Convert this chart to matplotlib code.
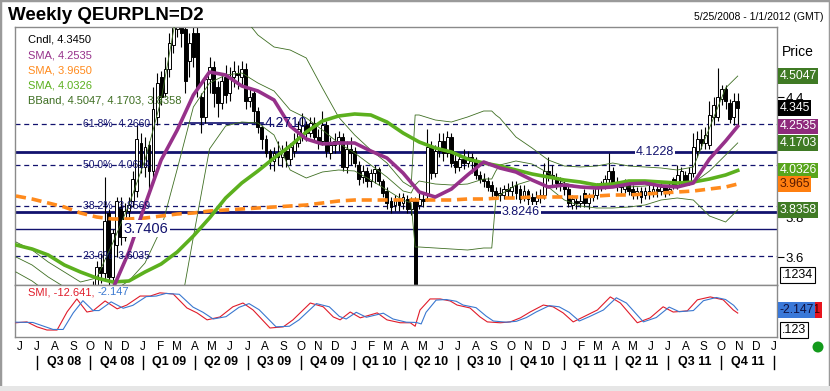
import numpy as np
import pandas as pd
import matplotlib
matplotlib.use('Agg')
import matplotlib.pyplot as plt
import matplotlib.dates as mdates
from matplotlib.patches import Rectangle, Ellipse
from matplotlib.lines import Line2D
from matplotlib.transforms import blended_transform_factory as blend

plt.rcParams['font.family'] = ['Liberation Sans', 'DejaVu Sans']

# ---------------- data ----------------
start_week = '2008-05-25'          # week 0
first_candle_week = 19

opens = [3.40,3.46,3.55,3.52,3.82,3.50,3.66,3.85,3.70,3.83,
         3.88,3.93,4.17,4.05,4.16,4.03,4.30,4.50,4.42,4.54,
         4.66,4.74,4.78,4.74,4.58,4.72,4.72,4.40,4.30,4.49,
         4.55,4.45,4.37,4.50,4.42,4.50,4.52,4.50,4.54,4.38,
         4.42,4.33,4.25,4.19,4.13,4.08,4.12,4.10,4.13,4.09,
         4.13,4.17,4.22,4.26,4.22,4.27,4.20,4.18,4.26,4.12,
         4.16,4.18,4.20,4.05,4.14,4.13,4.06,4.00,4.03,3.98,
         4.02,4.04,3.98,3.93,3.88,3.86,3.89,3.87,3.89,3.84,
         3.88,3.86,3.89,3.92,4.15,4.02,4.13,4.18,4.12,4.20,
         4.08,4.05,4.09,4.07,4.10,4.08,4.01,3.99,3.98,3.96,
         3.93,3.91,3.91,3.94,3.93,3.96,3.94,3.90,3.93,3.90,
         3.88,3.90,3.91,4.03,4.01,4.00,3.97,3.96,3.94,3.86,
         3.88,3.87,3.92,3.87,3.90,3.91,3.95,3.96,3.99,4.03,
         3.97,3.96,3.94,3.96,3.94,3.92,3.93,3.91,3.93,3.92,
         3.94,3.93,3.95,3.93,3.99,3.96,3.98,4.01,3.98,4.02,
         4.13,4.19,4.17,4.16,4.30,4.30,4.39,4.44,4.37,4.30,
         4.38]
highs = [3.48,3.58,3.62,4.00,3.84,3.74,3.90,3.90,3.87,3.90,
         4.03,4.26,4.22,4.20,4.18,4.45,4.52,4.53,4.60,4.72,
         4.90,4.92,4.90,4.85,4.72,4.80,4.75,4.42,4.51,4.60,
         4.58,4.48,4.52,4.56,4.55,4.58,4.56,4.58,4.57,4.45,
         4.44,4.35,4.26,4.21,4.14,4.15,4.18,4.16,4.18,4.17,
         4.22,4.28,4.32,4.28,4.30,4.30,4.24,4.33,4.28,4.20,
         4.22,4.23,4.22,4.18,4.20,4.15,4.08,4.06,4.05,4.04,
         4.06,4.05,3.99,3.95,3.90,3.91,3.92,3.92,3.91,3.90,
         3.90,3.92,3.92,4.24,4.18,4.16,4.22,4.22,4.23,4.22,
         4.12,4.11,4.14,4.13,4.12,4.10,4.03,4.02,4.00,3.98,
         3.95,3.95,3.96,3.97,3.98,3.98,3.96,3.96,3.94,3.92,
         3.93,3.94,4.07,4.10,4.06,4.02,4.00,3.98,3.96,3.91,
         3.90,3.91,3.94,3.92,3.94,3.97,3.98,4.01,4.12,4.05,
         4.00,3.98,3.99,3.98,3.96,3.95,3.95,3.95,3.96,3.96,
         3.96,3.97,3.96,3.97,4.00,4.06,4.05,4.03,4.05,4.22,
         4.23,4.24,4.25,4.38,4.40,4.545,4.46,4.46,4.39,4.42,
         4.42]
lows = [3.38,3.42,3.47,3.48,3.46,3.47,3.60,3.66,3.68,3.80,
        3.85,3.90,4.02,4.00,3.93,4.00,4.26,4.36,4.40,4.50,
        4.62,4.70,4.65,4.42,4.50,4.55,4.40,4.22,4.27,4.42,
        4.35,4.30,4.34,4.37,4.38,4.45,4.44,4.46,4.34,4.35,
        4.27,4.22,4.14,4.10,4.04,4.03,4.06,4.05,4.05,4.06,
        4.10,4.15,4.18,4.18,4.20,4.18,4.14,4.16,4.10,4.09,
        4.12,4.13,4.03,4.02,4.06,4.05,3.96,3.97,3.95,3.95,
        3.97,3.96,3.90,3.84,3.82,3.83,3.83,3.84,3.82,3.81,
        3.20,3.84,3.85,3.88,3.99,4.00,4.10,4.08,4.10,4.05,
        4.02,4.03,4.04,4.05,4.02,3.99,3.97,3.95,3.93,3.89,
        3.89,3.88,3.89,3.90,3.90,3.89,3.87,3.88,3.85,3.86,
        3.86,3.87,3.89,3.98,3.96,3.94,3.93,3.91,3.85,3.84,
        3.84,3.85,3.85,3.84,3.88,3.89,3.93,3.94,3.97,3.95,
        3.93,3.92,3.92,3.91,3.89,3.89,3.87,3.89,3.89,3.90,
        3.90,3.91,3.90,3.91,3.94,3.94,3.96,3.96,3.96,4.00,
        4.10,4.14,4.14,4.14,4.26,4.28,4.36,4.34,4.27,4.26,
        4.26]
closes = [3.45,3.55,3.52,3.78,3.50,3.72,3.88,3.70,3.83,3.86,
          3.99,4.19,4.05,4.15,4.03,4.34,4.47,4.40,4.54,4.67,
          4.78,4.80,4.72,4.48,4.67,4.60,4.45,4.30,4.49,4.55,
          4.42,4.37,4.48,4.41,4.50,4.53,4.51,4.54,4.38,4.40,
          4.33,4.25,4.19,4.12,4.08,4.12,4.10,4.13,4.09,4.15,
          4.18,4.24,4.26,4.22,4.27,4.20,4.18,4.26,4.13,4.16,
          4.18,4.20,4.05,4.14,4.12,4.07,3.99,4.03,3.98,4.02,
          4.04,3.98,3.92,3.87,3.85,3.89,3.86,3.90,3.84,3.88,
          3.20,3.89,3.88,4.15,4.02,4.13,4.18,4.12,4.20,4.07,
          4.05,4.09,4.07,4.10,4.08,4.01,3.99,3.98,3.95,3.93,
          3.91,3.92,3.94,3.93,3.95,3.92,3.89,3.93,3.89,3.88,
          3.90,3.91,4.03,4.01,4.00,3.97,3.96,3.94,3.87,3.89,
          3.87,3.88,3.87,3.90,3.91,3.95,3.96,3.99,4.03,3.97,
          3.96,3.95,3.96,3.93,3.91,3.93,3.90,3.93,3.92,3.94,
          3.93,3.95,3.92,3.94,3.96,4.01,4.03,3.98,4.02,4.15,
          4.19,4.17,4.21,4.31,4.36,4.40,4.44,4.38,4.29,4.38,
          4.345]

# moving averages read every 4 weeks (+ last week)
ind_weeks = list(range(0, 177, 4)) + [179]
sma_purple = [3.40,3.35,3.30,3.28,3.30,3.38,3.44,3.625,3.86,4.085,
              4.235,4.41,4.525,4.51,4.455,4.43,4.385,4.255,4.19,4.165,
              4.17,4.17,4.13,4.095,4.02,3.925,3.90,3.94,4.01,4.075,
              4.045,4.025,3.985,3.95,3.96,3.95,3.945,3.95,3.965,3.97,
              3.955,3.95,3.97,4.09,4.18,4.2535]
sma_orange = [3.905,3.89,3.87,3.85,3.82,3.80,3.79,3.79,3.795,3.805,
              3.815,3.82,3.83,3.835,3.84,3.845,3.85,3.855,3.86,3.87,
              3.88,3.885,3.885,3.885,3.885,3.885,3.885,3.885,3.89,3.89,
              3.895,3.895,3.90,3.90,3.90,3.90,3.905,3.91,3.91,3.915,
              3.92,3.925,3.93,3.94,3.95,3.965]
sma_green = [3.66,3.64,3.61,3.56,3.525,3.495,3.475,3.48,3.525,3.565,
             3.625,3.705,3.795,3.895,3.97,4.03,4.095,4.155,4.225,4.28,
             4.305,4.315,4.31,4.275,4.22,4.175,4.145,4.125,4.09,4.07,
             4.055,4.035,4.015,4.00,3.985,3.975,3.96,3.965,3.98,3.98,
             3.975,3.97,3.975,3.99,4.01,4.0326]

bb_weeks = [0,4,8,12,16,20,24,28,32,36,40,44,48,52,56,60,64,68,72,76,
            80,84,88,92,96,98,99,100,104,108,112,116,118,119,120,124,
            128,132,136,140,144,148,152,156,160,164,168,172,176,179]
bb_upper = [3.675,3.635,3.575,3.525,3.475,3.495,3.67,3.86,4.085,4.385,
            4.835,5.10,5.15,5.05,4.81,4.71,4.65,4.635,4.595,4.445,
            4.30,4.21,4.135,4.07,3.975,3.95,4.31,4.31,4.285,4.275,
            4.30,4.33,4.33,4.31,4.295,4.20,4.145,4.085,4.055,4.05,
            4.055,4.07,4.055,4.05,4.045,4.035,4.05,4.245,4.445,4.5047]
bb_mid = [3.60,3.56,3.50,3.45,3.41,3.40,3.43,3.48,3.57,3.74,
          4.04,4.35,4.47,4.51,4.52,4.47,4.43,4.335,4.295,4.235,
          4.17,4.12,4.06,4.00,3.93,3.92,3.96,3.98,3.965,3.96,
          3.965,3.99,3.99,4.03,4.06,4.08,4.065,4.02,3.97,3.95,
          3.95,3.955,3.95,3.955,3.965,3.965,3.97,4.03,4.11,4.1703]
bb_lower = [3.525,3.48,3.42,3.38,3.35,3.30,3.20,3.10,3.05,3.10,
            3.25,3.70,4.14,4.255,4.275,4.27,4.21,4.035,3.995,4.025,
            4.035,4.03,3.985,3.935,3.885,3.87,3.65,3.65,3.645,3.64,
            3.635,3.645,3.645,3.885,3.91,3.96,3.985,3.95,3.885,3.855,
            3.845,3.845,3.85,3.86,3.885,3.895,3.885,3.805,3.775,3.8358]

fib_pct = ['61.8%', '50.0%', '38.2%', '23.6%']
fib_levels = [4.2660, 4.0614, 3.8569, 3.6035]
thick_levels = [4.1228, 3.8246]
thin_level = 3.7406
seg_level = 4.2710

smi_red_weeks = [0,2.7,5.2,7.7,10.2,12.7,15.1,17.6,19.1,22.1,25.1,27.5,30.8,33.3,35.7,
                 39.0,42.4,44.9,47.4,50.6,53.8,56.3,58.8,63.0,66.3,68.7,73.0,76.2,78.7,80.4,
                 82.9,85.4,89.6,92.0,95.3,97.8,99.0,100.2,102.7,105.2,107.7,109.4,112.6,115.1,
                 116.9,120.1,122.6,125.1,127.5,130.8,133.2,135.7,138.2,140.7,144.2,147.4,149.9,
                 154.1,157.3,160.5,163.0,166.5,169.0,172.2,175.4,177.9,179]
smi_red = [-46,-43,-60,-71,-71,-8,36,-9,-5,29,2,15,46,46,57,
           53,5,-12,-36,-26,9,22,-2,-64,-60,-36,22,9,-26,-36,
           -9,-29,-12,-36,-46,-46,-58,-2,36,36,29,15,5,-26,
           -43,-46,-43,-29,-9,15,9,-12,-43,-26,-2,43,22,
           -46,-29,9,-9,-5,33,43,33,-2,-12.641]
smi_blue_weeks = [0,4.2,6.7,9.2,11.7,14.2,16.6,19.1,20.6,23.6,26.6,29.0,32.3,34.8,37.2,
                  40.5,43.9,46.4,48.9,52.1,55.3,57.8,60.3,64.5,67.8,70.2,74.5,77.7,80.2,81.9,
                  84.4,86.9,91.1,93.5,96.8,99.3,100.5,101.7,104.2,106.7,109.2,110.9,114.1,116.6,
                  118.4,121.6,124.1,126.6,129.0,132.3,134.7,137.2,139.7,142.2,145.7,148.9,151.4,
                  155.6,158.8,162.0,164.5,168.0,170.5,173.7,176.0,178.0,179]
smi_blue = [-44,-45,-57,-69,-69,-12,30,-4,-4,26,4,14,44,46,55,
            52,8,-10,-33,-25,7,20,-1,-60,-58,-36,20,9,-24,-33,
            -10,-27,-13,-33,-44,-45,-50,-10,32,34,28,15,6,-23,
            -40,-44,-41,-28,-9,13,9,-10,-40,-25,-2,40,22,
            -43,-28,8,-8,-4,30,41,34,14,-2.147]

month_letters = list('JJASONDJFMAMJJASONDJFMAMJJASONDJFMAMJJASONDJ')
quarter_labels = ['Q3 08','Q4 08','Q1 09','Q2 09','Q3 09','Q4 09','Q1 10','Q2 10',
                  'Q3 10','Q4 10','Q1 11','Q2 11','Q3 11','Q4 11']
price_ticks = [3.6, 3.8, 4.0, 4.2, 4.4]
price_tick_labels = ['3.6', '3.8', '', '', '4.4']   # 4.0 / 4.2 sit behind the value tags

# ---------------- helpers ----------------
W, H = 830, 391
fig = plt.figure(figsize=(W / 100, H / 100), dpi=100)
fig.patch.set_facecolor('white')

def fx(px):
    return px / W

def fy(py):
    return 1 - py / H

t0 = mdates.date2num(pd.Timestamp(start_week))

def wk(w):
    return t0 + 7 * np.asarray(w, dtype=float)

NAVY = '#12126e'
PURPLE = '#96318a'
ORANGE = '#ff8a1c'
GREEN = '#5cb01e'
BBC = '#3e6e22'

L, R, TOP, MID, BOT = 14.5, 777, 27, 285, 337
ax = fig.add_axes([fx(L), fy(MID), fx(R - L), (MID - TOP) / H])
ax2 = fig.add_axes([fx(L), fy(BOT), fx(R - L), (BOT - MID) / H])

d_jun = mdates.date2num(pd.Timestamp('2008-06-01'))
d_jan = mdates.date2num(pd.Timestamp('2012-01-01'))
ppd = (774 - 20) / (d_jan - d_jun)
xlim = (d_jun - (20 - L) / ppd, d_jan + (R - 774) / ppd)

for a in (ax, ax2):
    a.set_xlim(*xlim)
    a.set_facecolor('white')
    for s in a.spines.values():
        s.set_color('#8a8a8a')
        s.set_linewidth(1)
    a.set_xticks([])

ax.set_ylim(3.46, 4.75)

# ---------------- horizontal studies ----------------
for lvl in fib_levels:
    ax.axhline(lvl, color=NAVY, lw=0.9, ls=(0, (4, 3)), zorder=1)
for pct, lvl in zip(fib_pct, fib_levels):
    ax.text((83 - L) / (R - L), lvl, f'{pct}  {lvl:.4f}', transform=blend(ax.transAxes, ax.transData),
            fontsize=7.5, color=NAVY, va='center', ha='left', zorder=5)
for lvl in thick_levels:
    ax.axhline(lvl, color=NAVY, lw=2.0, zorder=1)
ax.axhline(thin_level, color=NAVY, lw=1.0, zorder=1)
seg_x = xlim[0] + (np.array([185, 263]) - L) / ppd
ax.plot(seg_x, [seg_level, seg_level], color=NAVY, lw=1.2, zorder=1)

def hlabel(xpx, lvl, txt, fs):
    ax.text((xpx - L) / (R - L), lvl, txt, transform=blend(ax.transAxes, ax.transData),
            fontsize=fs, color=NAVY, va='center', ha='center', zorder=6,
            bbox=dict(boxstyle='square,pad=0.1', fc='white', ec='none'))

hlabel(655, thick_levels[0], f'{thick_levels[0]:.4f}', 9)
hlabel(521, thick_levels[1], f'{thick_levels[1]:.4f}', 9)
hlabel(146, thin_level, f'{thin_level:.4f}', 10.5)
ax.text((265 - L) / (R - L), seg_level, f'{seg_level:.4f}', transform=blend(ax.transAxes, ax.transData),
        fontsize=10, color=NAVY, va='center', ha='left', zorder=6)

# ---------------- candles ----------------
o = np.array(opens); h = np.array(highs); lo = np.array(lows); c = np.array(closes)
cw = np.arange(first_candle_week, first_candle_week + len(c))
xd = wk(cw)
ax.vlines(xd, lo, h, color='black', lw=0.8, zorder=2)
up = c >= o
body_b = np.minimum(o, c)
body_h = np.maximum(np.abs(c - o), 0.004)
ax.bar(xd[up], body_h[up], bottom=body_b[up], width=5.0, color='white', edgecolor='black',
       linewidth=0.7, zorder=2.1)
ax.bar(xd[~up], body_h[~up], bottom=body_b[~up], width=5.0, color='black', edgecolor='black',
       linewidth=0.7, zorder=2.1)

# ---------------- indicators ----------------
bw = wk(bb_weeks)
for arr in (bb_upper, bb_mid, bb_lower):
    ax.plot(bw, arr, color=BBC, lw=0.6, zorder=3)
iw = wk(ind_weeks)
ax.plot(iw, sma_orange, color=ORANGE, lw=2.6, ls=(0, (2.8, 1.6)), zorder=4)
ax.plot(iw, sma_green, color=GREEN, lw=2.6, zorder=4.1)
ax.plot(iw, sma_purple, color=PURPLE, lw=2.6, zorder=4.2)

# ---------------- legend text ----------------
legend = [(f'Cndl, {closes[-1]:.4f}', 'black'),
          (f'SMA, {sma_purple[-1]:.4f}', PURPLE),
          (f'SMA, {sma_orange[-1]:.4f}', ORANGE),
          (f'SMA, {sma_green[-1]:.4f}', GREEN),
          (f'BBand, {bb_upper[-1]:.4f}, {bb_mid[-1]:.4f}, {bb_lower[-1]:.4f}', BBC)]
for k, (t, col) in enumerate(legend):
    fig.text(fx(28), fy(40 + 15.2 * k), t, color=col, fontsize=8, va='center', ha='left', zorder=10)

# ---------------- right axis ----------------
ax.yaxis.tick_right()
ax.set_yticks(price_ticks)
ax.set_yticklabels(price_tick_labels)
ax.tick_params(axis='y', length=5, width=0.8, pad=1, labelsize=9.5, colors='black')
ax2.set_yticks([])

def tag(a, val, txt, fc, tc='white'):
    a.text(1.003, val, txt, transform=blend(a.transAxes, a.transData), ha='left', va='center',
           fontsize=8.8, color=tc, clip_on=False, zorder=8,
           bbox=dict(boxstyle='square,pad=0.14', fc=fc, ec='none'))

def short(v):
    return f'{v:.4f}'.rstrip('0')

tag(ax, bb_upper[-1], short(bb_upper[-1]), '#3f7a24')
tag(ax, closes[-1], short(closes[-1]), 'black')
tag(ax, sma_purple[-1], short(sma_purple[-1]), '#8e2a7c')
tag(ax, bb_mid[-1], short(bb_mid[-1]), '#3f7a24')
tag(ax, sma_green[-1], short(sma_green[-1]), '#58a51c')
tag(ax, sma_orange[-1], short(sma_orange[-1]), '#ff7f10', '#5a1a00')
tag(ax, bb_lower[-1], short(bb_lower[-1]), '#3f7a24')
ax.text(1.006, 0.04, '.1234', transform=ax.transAxes, ha='left', va='center', fontsize=9,
        color='black', clip_on=False, zorder=8,
        bbox=dict(boxstyle='square,pad=0.15', fc='white', ec='black', lw=0.8))
fig.text(fx(782), fy(52), 'Price', fontsize=10, va='center', ha='left')

# ---------------- SMI ----------------
ax2.set_ylim(-95, 84)
ax2.plot(wk(smi_red_weeks), smi_red, color='#e01c2a', lw=0.8, zorder=3)
ax2.plot(wk(smi_blue_weeks), smi_blue, color='#3a78d0', lw=0.8, zorder=3.1)
ax2.text((28 - L) / (R - L), 0.86, f'SMI, {smi_red[-1]:.3f},', transform=ax2.transAxes,
         color='#e01c2a', fontsize=8, va='center', ha='left')
ax2.text((97 - L) / (R - L), 0.86, f'{smi_blue[-1]:.3f}', transform=ax2.transAxes,
         color='#3a78d0', fontsize=8, va='center', ha='left')
ax2.text(1.003, smi_blue[-1], f'{smi_red[-1]:.3f}', transform=blend(ax2.transAxes, ax2.transData),
         ha='left', va='center', fontsize=8.8, color='#400000', clip_on=False, zorder=7,
         bbox=dict(boxstyle='square,pad=0.14', fc='#e8141e', ec='none'))
ax2.text(1.003, smi_blue[-1], f'{smi_blue[-1]:.3f}', transform=blend(ax2.transAxes, ax2.transData),
         ha='left', va='center', fontsize=8.8, color='#101040', clip_on=False, zorder=8,
         bbox=dict(boxstyle='square,pad=0.14', fc='#3a78d8', ec='none'))
ax2.text(1.006, 0.14, '.123', transform=ax2.transAxes, ha='left', va='center', fontsize=9,
         color='black', clip_on=False, zorder=8,
         bbox=dict(boxstyle='square,pad=0.15', fc='white', ec='black', lw=0.8))

# ---------------- time axis labels ----------------
tb = blend(ax2.transData, ax2.transAxes)
months = pd.date_range('2008-06-01', periods=len(month_letters), freq='MS')
for m, letter in zip(months, month_letters):
    ax2.text(mdates.date2num(m), -10 / (BOT - MID), letter, transform=tb, ha='center', va='center',
             fontsize=8.5, clip_on=False)
qstarts = pd.date_range('2008-07-01', periods=len(quarter_labels) + 1, freq='QS')
for k, lab in enumerate(quarter_labels):
    a = mdates.date2num(qstarts[k]); b = mdates.date2num(qstarts[k + 1])
    ax2.text((a + b) / 2, -25 / (BOT - MID), lab, transform=tb, ha='center', va='center',
             fontsize=9, fontweight='bold', clip_on=False)
for q in qstarts:
    ax2.add_line(Line2D([mdates.date2num(q)] * 2, [-19 / 52, -32 / 52], transform=tb,
                        color='black', lw=1.0, clip_on=False))

# ---------------- title / frame ----------------
fig.text(fx(8), fy(16), 'Weekly QEURPLN=D2', fontsize=13.5, fontweight='bold', va='center', ha='left')
fig.text(fx(823), fy(17), '5/25/2008 - 1/1/2012 (GMT)', fontsize=7.5, va='center', ha='right')
fig.patches.append(Ellipse((fx(818), fy(347)), 11 / W, 11 / H, transform=fig.transFigure,
                           fc='#139a1c', ec='none'))
fig.patches.append(Rectangle((0, 0), 1, 1, transform=fig.transFigure, fill=False,
                             ec='#9a9a9a', lw=2.5))
fig.patches.append(Rectangle((0, 0), 1, 5 / H, transform=fig.transFigure, fc='#e6e6e6', ec='none'))

fig.savefig('out.png', dpi=100, facecolor='white')
